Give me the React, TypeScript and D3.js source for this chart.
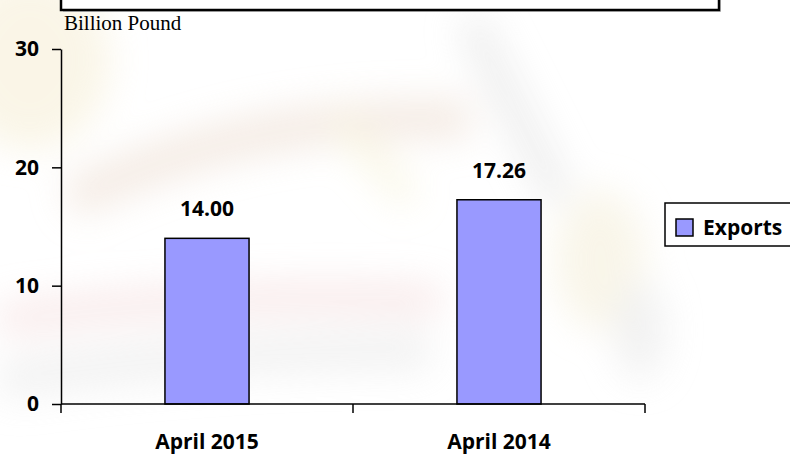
import React, { useEffect, useRef } from "react";
import * as d3 from "d3";

const categories = ["April 2015", "April 2014"];
const exportsValues = [14.0, 17.26];
const valueLabels = ["14.00", "17.26"];
const yTicks = [0, 10, 20, 30];
const seriesName = "Exports";
const unitLabel = "Billion Pound";

const App = () => {
  const svgRef = useRef<SVGSVGElement>(null);

  useEffect(() => {
    drawChart();
  }, []);

  const drawChart = () => {
    const width = 790;
    const height = 456;
    const plot = { left: 61, right: 645, top: 49, bottom: 404 };
    const boldFont = "'Open Sans', 'DejaVu Sans', sans-serif";

    const svg = d3.select(svgRef.current).attr("width", width).attr("height", height);
    svg.selectAll("*").remove();

    // faded photo behind the chart, roughly
    const defs = svg.append("defs");
    defs
      .append("filter")
      .attr("id", "blur")
      .attr("x", "-50%")
      .attr("y", "-50%")
      .attr("width", "200%")
      .attr("height", "200%")
      .append("feGaussianBlur")
      .attr("stdDeviation", 18);

    svg.append("rect").attr("width", width).attr("height", height).attr("fill", "#ffffff");
    const bg = svg.append("g").attr("filter", "url(#blur)").attr("opacity", 0.55);
    bg.append("ellipse").attr("cx", 30).attr("cy", 60).attr("rx", 80).attr("ry", 90).attr("fill", "#f6eed4");
    bg.append("path").attr("d", "M70,200 Q250,110 470,120").attr("fill", "none").attr("stroke", "#ecdccf").attr("stroke-width", 40);
    bg.append("path").attr("d", "M0,320 Q220,290 440,300").attr("fill", "none").attr("stroke", "#f3d8d8").attr("stroke-width", 30);
    bg.append("path").attr("d", "M0,380 Q200,350 430,350").attr("fill", "none").attr("stroke", "#e8e8e8").attr("stroke-width", 40);
    bg.append("path").attr("d", "M470,20 L560,200").attr("fill", "none").attr("stroke", "#e0e0e0").attr("stroke-width", 30);
    bg.append("path").attr("d", "M340,120 L410,200").attr("fill", "none").attr("stroke", "#f4eec8").attr("stroke-width", 20);
    bg.append("ellipse").attr("cx", 600).attr("cy", 260).attr("rx", 45).attr("ry", 70).attr("fill", "#f4eed8");
    bg.append("ellipse").attr("cx", 640).attr("cy", 330).attr("rx", 25).attr("ry", 50).attr("fill", "#e6e6e6");

    const yScale = d3.scaleLinear().domain([0, 30]).range([plot.bottom, plot.top]);
    const outer = d3.scaleBand().domain(categories).range([plot.left, plot.right]).padding(0);
    const xScale = d3
      .scaleBand()
      .domain(categories)
      .range([plot.left, plot.right])
      .paddingInner(0.712)
      .paddingOuter(0.356);

    // top box
    svg.append("rect").attr("x", 63).attr("y", -12).attr("width", 658).attr("height", 24).attr("fill", "#c8c8c8");
    svg
      .append("rect")
      .attr("x", 61)
      .attr("y", -14)
      .attr("width", 658)
      .attr("height", 24)
      .attr("fill", "#ffffff")
      .attr("stroke", "#000")
      .attr("stroke-width", 2.5);

    svg
      .append("text")
      .attr("x", 64)
      .attr("y", 30)
      .style("font-family", "'Liberation Serif', 'Times New Roman', serif")
      .style("font-size", "21px")
      .attr("fill", "#000")
      .text(unitLabel);

    // bars
    svg
      .selectAll("rect.bar")
      .data(exportsValues)
      .enter()
      .append("rect")
      .attr("class", "bar")
      .attr("x", (d, i) => xScale(categories[i]) as number)
      .attr("y", (d) => yScale(d))
      .attr("width", xScale.bandwidth())
      .attr("height", (d) => yScale(0) - yScale(d))
      .attr("fill", "#9999ff")
      .attr("stroke", "#000")
      .attr("stroke-width", 1.5);

    svg
      .selectAll("text.value")
      .data(exportsValues)
      .enter()
      .append("text")
      .attr("class", "value")
      .attr("x", (d, i) => (xScale(categories[i]) as number) + xScale.bandwidth() / 2)
      .attr("y", (d) => yScale(d) - 22)
      .attr("text-anchor", "middle")
      .style("font-family", boldFont)
      .style("font-weight", "700")
      .style("font-size", "21px")
      .attr("fill", "#000")
      .text((d, i) => valueLabels[i]);

    // y axis
    const yAxis = svg
      .append("g")
      .attr("transform", `translate(${plot.left},0)`)
      .call(d3.axisLeft(yScale).tickValues(yTicks).tickSize(9).tickSizeOuter(0).tickPadding(13));
    yAxis.select(".domain").attr("stroke", "#000").attr("stroke-width", 1.5);
    yAxis.selectAll(".tick line").attr("stroke", "#000").attr("stroke-width", 1.5);
    yAxis
      .selectAll(".tick text")
      .style("font-family", boldFont)
      .style("font-weight", "700")
      .style("font-size", "21px")
      .attr("fill", "#000");

    // x axis
    const boundaries = categories.map((c) => outer(c) as number).concat([plot.right]);
    svg
      .append("line")
      .attr("x1", plot.left)
      .attr("x2", plot.right)
      .attr("y1", plot.bottom)
      .attr("y2", plot.bottom)
      .attr("stroke", "#000")
      .attr("stroke-width", 1.5);
    svg
      .selectAll("line.xtick")
      .data(boundaries)
      .enter()
      .append("line")
      .attr("class", "xtick")
      .attr("x1", (d) => d)
      .attr("x2", (d) => d)
      .attr("y1", plot.bottom)
      .attr("y2", plot.bottom + 9)
      .attr("stroke", "#000")
      .attr("stroke-width", 1.5);
    svg
      .selectAll("text.xlabel")
      .data(categories)
      .enter()
      .append("text")
      .attr("class", "xlabel")
      .attr("x", (d) => (outer(d) as number) + outer.bandwidth() / 2)
      .attr("y", 449)
      .attr("text-anchor", "middle")
      .style("font-family", boldFont)
      .style("font-weight", "700")
      .style("font-size", "21px")
      .attr("fill", "#000")
      .text((d) => d);

    // legend
    const legend = svg.append("g").attr("transform", "translate(665,203)");
    legend
      .append("rect")
      .attr("width", 140)
      .attr("height", 43)
      .attr("fill", "#ffffff")
      .attr("stroke", "#000")
      .attr("stroke-width", 1.5);
    legend
      .append("rect")
      .attr("x", 11)
      .attr("y", 16)
      .attr("width", 17)
      .attr("height", 17)
      .attr("fill", "#9999ff")
      .attr("stroke", "#000")
      .attr("stroke-width", 1.5);
    legend
      .append("text")
      .attr("x", 38)
      .attr("y", 32)
      .style("font-family", boldFont)
      .style("font-weight", "700")
      .style("font-size", "21px")
      .attr("fill", "#000")
      .text(seriesName);
  };

  return (
    <svg ref={svgRef} style={{ position: "absolute", left: 0, top: 0, display: "block" }}></svg>
  );
};

export default App;
